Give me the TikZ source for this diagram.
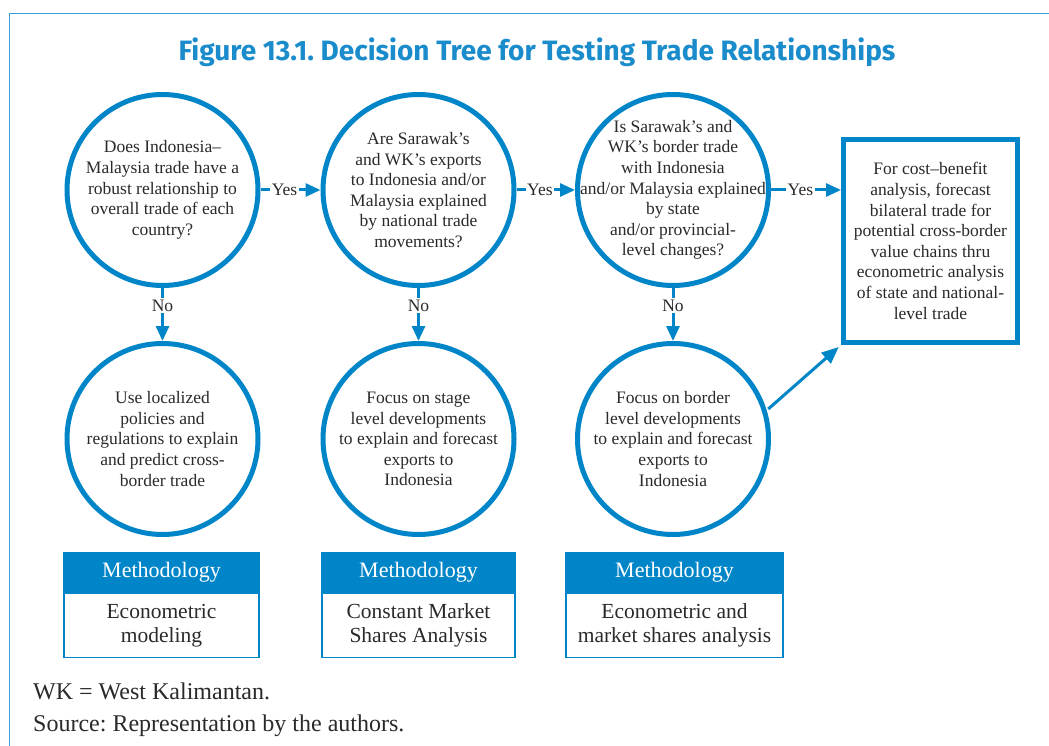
\documentclass[tikz,border=0pt]{standalone}
\usepackage{fontspec}
\setmainfont{Liberation Serif}
\newfontfamily\titlefont{Fira Sans}
\usetikzlibrary{arrows.meta}
\definecolor{adbblue}{HTML}{0086C8}
\definecolor{framecol}{HTML}{3A9ED3}
\definecolor{titlecol}{HTML}{1A8CCB}
\definecolor{txt}{HTML}{2A2A2A}
\frenchspacing
\tikzset{
  q/.style={circle, draw=adbblue, line width=5pt, minimum size=191pt, inner sep=0pt},
  qtext/.style={inner sep=0pt, align=center, text=txt, font=\fontsize{17.5}{20.6}\selectfont},
  result/.style={rectangle, draw=adbblue, line width=5pt, minimum width=174pt, minimum height=203pt,
    inner sep=0pt, align=center, text=txt, font=\fontsize{17.5}{20.6}\selectfont},
  flow/.style={draw=adbblue, line width=3pt, -{Triangle[length=15pt,width=13pt]}},
  lbl/.style={fill=white, inner sep=1.5pt, text=txt, font=\fontsize{17.5}{20}\selectfont},
  mhead/.style={rectangle, fill=adbblue, draw=adbblue, line width=1.2pt, inner sep=0pt,
    minimum height=39pt, text=white, font=\fontsize{22}{24}\selectfont},
  mbody/.style={rectangle, draw=adbblue, line width=1.2pt, inner sep=0pt,
    minimum height=64pt, align=center, text=txt, font=\fontsize{21.5}{24}\selectfont},
  foot/.style={anchor=base west, inner sep=0pt, text=txt, font=\fontsize{24}{28}\selectfont}
}
\begin{document}
\begin{tikzpicture}[x=1pt,y=-1pt]
\useasboundingbox (0,0) rectangle (1049,746);
\fill[white] (0,0) rectangle (1049,746);
\draw[framecol, line width=1.6pt] (9.5,746) -- (9.5,13.5) -- (1049,13.5);

\node[text=titlecol, font=\titlefont\bfseries\fontsize{28}{32}\selectfont, inner sep=0pt] (title) at (537,52)
  {Figure 13.1. Decision Tree for Testing Trade Relationships};

% top questions
\node[q] (q1) at (162.5,190) {};
\node[qtext] (q1t) at (q1) {Does Indonesia–\\Malaysia trade have a\\robust relationship to\\overall trade of each\\country?};
\node[q] (q2) at (418.5,190) {};
\node[qtext] (q2t) at (q2) {Are Sarawak’s\\and WK’s exports\\to Indonesia and/or\\Malaysia explained\\by national trade\\movements?};
\node[q] (q3) at (673,190) {};
\node[qtext] (q3t) at (q3) {Is Sarawak’s and\\WK’s border trade\\with Indonesia\\and/or Malaysia explained\\by state\\and/or provincial-\\level changes?};

\node[result] (res) at (930.5,241) {For cost–benefit\\analysis, forecast\\bilateral trade for\\potential cross-border\\value chains thru\\econometric analysis\\of state and national-\\level trade};

% lower circles
\node[q] (a1) at (162.5,439) {};
\node[qtext] (a1t) at (a1) {Use localized\\policies and\\regulations to explain\\and predict cross-\\border trade};
\node[q] (a2) at (418.5,439) {};
\node[qtext] (a2t) at (a2) {Focus on stage\\level developments\\to explain and forecast\\exports to\\Indonesia};
\node[q] (a3) at (673,439) {};
\node[qtext] (a3t) at (a3) {Focus on border\\level developments\\to explain and forecast\\exports to\\Indonesia};

% yes arrows
\draw[flow] (q1.east) -- node[lbl, pos=0.4] {Yes} (q2.west);
\draw[flow] (q2.east) -- node[lbl, pos=0.4] {Yes} (q3.west);
\draw[flow] (q3.east) -- node[lbl, pos=0.42] {Yes} (res.west |- q3.east);

% no arrows
\draw[flow] (q1.south) -- node[lbl, pos=0.33] {No} (a1.north);
\draw[flow] (q2.south) -- node[lbl, pos=0.33] {No} (a2.north);
\draw[flow] (q3.south) -- node[lbl, pos=0.33] {No} (a3.north);

% diagonal
\draw[adbblue, line width=3pt, -{Triangle[length=17pt,width=14pt]}, shorten >=3pt, shorten <=2pt] (a3.17) -- (res.south west);

% methodology boxes
\node[mhead, minimum width=195pt] (m1h) at (161.5,572.5) {\raisebox{-2pt}{Methodology}};
\node[mbody, minimum width=195pt, anchor=north] (m1b) at (m1h.south) {Econometric\\modeling};
\node[mhead, minimum width=193pt] (m2h) at (418.5,572.5) {\raisebox{-2pt}{Methodology}};
\node[mbody, minimum width=193pt, anchor=north] (m2b) at (m2h.south) {Constant Market\\Shares Analysis};
\node[mhead, minimum width=217pt] (m3h) at (674.5,572.5) {\raisebox{-2pt}{Methodology}};
\node[mbody, minimum width=217pt, anchor=north] (m3b) at (m3h.south) {Econometric and\\market shares analysis};

% footer
\node[foot] (n1) at (33,699) {WK = West Kalimantan.};
\node[foot] (n2) at (33,731) {Source: Representation by the authors.};
\end{tikzpicture}
\end{document}
